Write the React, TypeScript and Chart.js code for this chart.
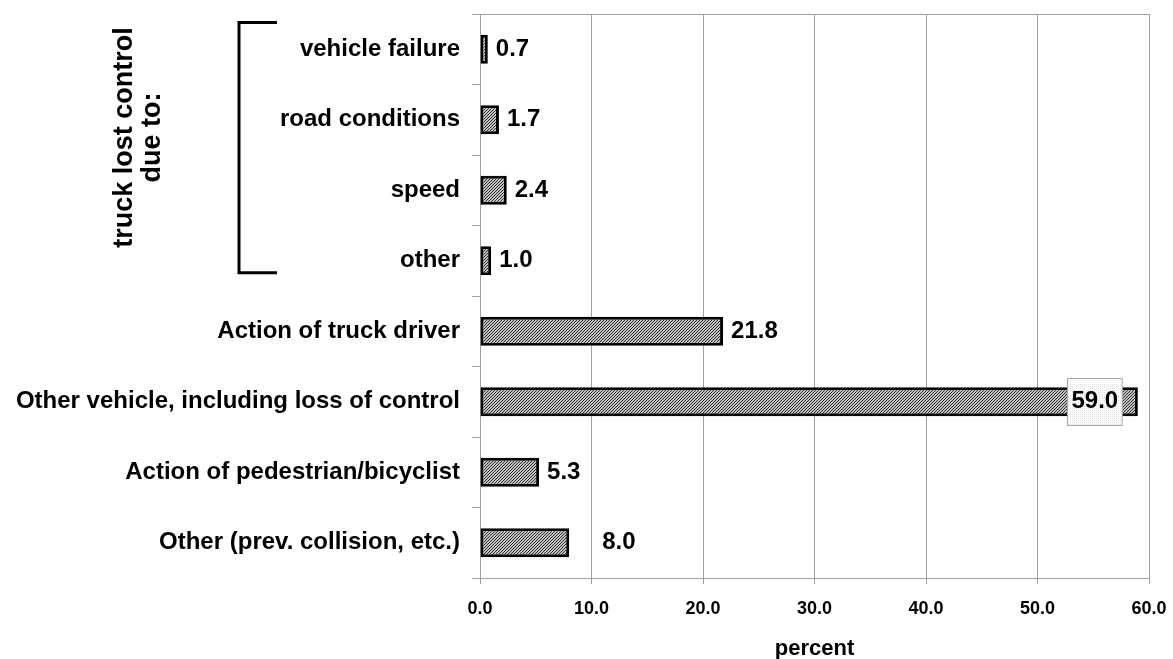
import React, { useEffect, useRef } from "react";
import { Chart, registerables } from "chart.js";

Chart.register(...registerables);

const categories = [
  "vehicle failure",
  "road conditions",
  "speed",
  "other",
  "Action of truck driver",
  "Other vehicle, including loss of control",
  "Action of pedestrian/bicyclist",
  "Other (prev. collision, etc.)",
];
const percentValues = [0.7, 1.7, 2.4, 1.0, 21.8, 59.0, 5.3, 8.0];
const xTickValues = [0, 10, 20, 30, 40, 50, 60];
const bracketLines = ["truck lost control", "due to:"];
const bracketedCount = 4;
const axisTitle = "percent";

const FONT = '"Liberation Sans", Arial, sans-serif';
const GRID = "#a0a0a0";

function makeHatch(): CanvasPattern | string {
  const c = document.createElement("canvas");
  c.width = 3;
  c.height = 3;
  const g = c.getContext("2d");
  if (!g) return "#a0a0a0";
  g.fillStyle = "#c4c4c4";
  g.fillRect(0, 0, 3, 3);
  g.fillStyle = "#282828";
  for (let i = 0; i < 3; i++) g.fillRect(i, 2 - i, 1, 1);
  return g.createPattern(c, "repeat") as CanvasPattern;
}

function makeDots(): CanvasPattern | string {
  const c = document.createElement("canvas");
  c.width = 2;
  c.height = 2;
  const g = c.getContext("2d");
  if (!g) return "#f8f8f8";
  g.fillStyle = "#ffffff";
  g.fillRect(0, 0, 2, 2);
  g.fillStyle = "#e0e0e0";
  g.fillRect(0, 0, 1, 1);
  return g.createPattern(c, "repeat") as CanvasPattern;
}

const zeroPad = (s: any) => {
  s.paddingTop = 0;
  s.paddingBottom = 0;
  s.paddingLeft = 0;
  s.paddingRight = 0;
};

const valueLabelPlugin = {
  id: "valueLabels",
  afterDatasetsDraw(chart: any) {
    const ctx = chart.ctx as CanvasRenderingContext2D;
    const meta = chart.getDatasetMeta(0);
    const area = chart.chartArea;
    ctx.save();
    ctx.font = `bold 24px ${FONT}`;
    ctx.fillStyle = "#000";
    ctx.textBaseline = "middle";
    meta.data.forEach((bar: any, i: number) => {
      const txt = percentValues[i].toFixed(1);
      const w = ctx.measureText(txt).width;
      const x = bar.x;
      const y = bar.y;
      if (x + 8 + w > area.right) {
        const bw = w + 8;
        const bh = 47;
        const cx = x - 43;
        ctx.fillStyle = makeDots();
        ctx.fillRect(cx - bw / 2, y - bh / 2, bw, bh);
        ctx.strokeStyle = "#a8a8a8";
        ctx.lineWidth = 1;
        ctx.strokeRect(Math.round(cx - bw / 2) + 0.5, Math.round(y - bh / 2) + 0.5, bw, bh);
        ctx.fillStyle = "#000";
        ctx.textAlign = "center";
        ctx.fillText(txt, cx, y);
      } else {
        const gap = i === percentValues.length - 1 ? 33 : 8;
        ctx.textAlign = "left";
        ctx.fillText(txt, x + gap, y);
      }
    });
    ctx.restore();
  },
  afterDraw(chart: any) {
    const ctx = chart.ctx as CanvasRenderingContext2D;
    const area = chart.chartArea;
    const yScale = chart.scales.y;
    ctx.save();
    // top border of plot area
    ctx.strokeStyle = GRID;
    ctx.lineWidth = 1;
    ctx.beginPath();
    ctx.moveTo(area.left, Math.round(area.top) + 0.5);
    ctx.lineTo(area.right, Math.round(area.top) + 0.5);
    ctx.stroke();

    // bracket
    const step = yScale.getPixelForValue(1) - yScale.getPixelForValue(0);
    const yTop = yScale.getPixelForValue(0) - step * 0.38;
    const yBot = yScale.getPixelForValue(bracketedCount - 1) + step * 0.17;
    const bx = 239;
    ctx.strokeStyle = "#000";
    ctx.lineWidth = 3;
    ctx.beginPath();
    ctx.moveTo(277, yTop);
    ctx.lineTo(bx, yTop);
    ctx.lineTo(bx, yBot);
    ctx.lineTo(277, yBot);
    ctx.stroke();

    // rotated bracket label
    const cy = (yTop + yBot) / 2 - 10;
    ctx.fillStyle = "#000";
    ctx.font = `bold 27px ${FONT}`;
    ctx.textAlign = "center";
    ctx.textBaseline = "middle";
    bracketLines.forEach((line, i) => {
      ctx.save();
      ctx.translate(125 + i * 28, cy);
      ctx.rotate(-Math.PI / 2);
      ctx.fillText(line, 0, 0);
      ctx.restore();
    });
    ctx.restore();
  },
};

export default function App() {
  const ref = useRef<HTMLCanvasElement | null>(null);
  useEffect(() => {
    if (!ref.current) return;
    const chart = new Chart(ref.current, {
      type: "bar",
      data: {
        labels: categories,
        datasets: [
          {
            data: percentValues,
            backgroundColor: makeHatch() as any,
            borderColor: "#000",
            borderWidth: 3,
            borderSkipped: false,
            categoryPercentage: 1,
            barPercentage: 0.41,
          },
        ],
      },
      options: {
        indexAxis: "y",
        responsive: false,
        animation: false,
        layout: { padding: { top: 14, right: 24, left: 0, bottom: 0 } },
        plugins: {
          legend: { display: false },
          tooltip: { enabled: false },
        },
        scales: {
          x: {
            type: "linear",
            min: 0,
            max: 60,
            afterBuildTicks: (s: any) => {
              s.ticks = xTickValues.map((v) => ({ value: v }));
            },
            afterFit: (s: any) => {
              s.height = 81;
              zeroPad(s);
            },
            ticks: {
              callback: (v: any) => Number(v).toFixed(1),
              color: "#000",
              font: { family: FONT, size: 18, weight: "bold" },
              padding: 14,
              maxRotation: 0,
            },
            grid: { color: GRID, lineWidth: 1, tickLength: 6 },
            border: { color: GRID, width: 1 },
            title: {
              display: true,
              text: axisTitle,
              color: "#000",
              font: { family: FONT, size: 22, weight: "bold" },
              padding: { top: 0, bottom: -3 },
            },
          },
          y: {
            type: "category",
            afterFit: (s: any) => {
              s.width = 480;
              zeroPad(s);
            },
            ticks: {
              color: "#000",
              font: { family: FONT, size: 24, weight: "bold" },
              padding: 12,
            },
            grid: {
              color: GRID,
              drawOnChartArea: false,
              drawTicks: true,
              tickLength: 8,
              offset: true,
            },
            border: { color: GRID, width: 1 },
          },
        },
      },
      plugins: [valueLabelPlugin],
    } as any);
    return () => chart.destroy();
  }, []);
  return (
    <div style={{ position: "fixed", left: 0, top: 0, width: 1173, height: 659, background: "#fff" }}>
      <canvas ref={ref} width={1173} height={659} style={{ display: "block" }} />
    </div>
  );
}
